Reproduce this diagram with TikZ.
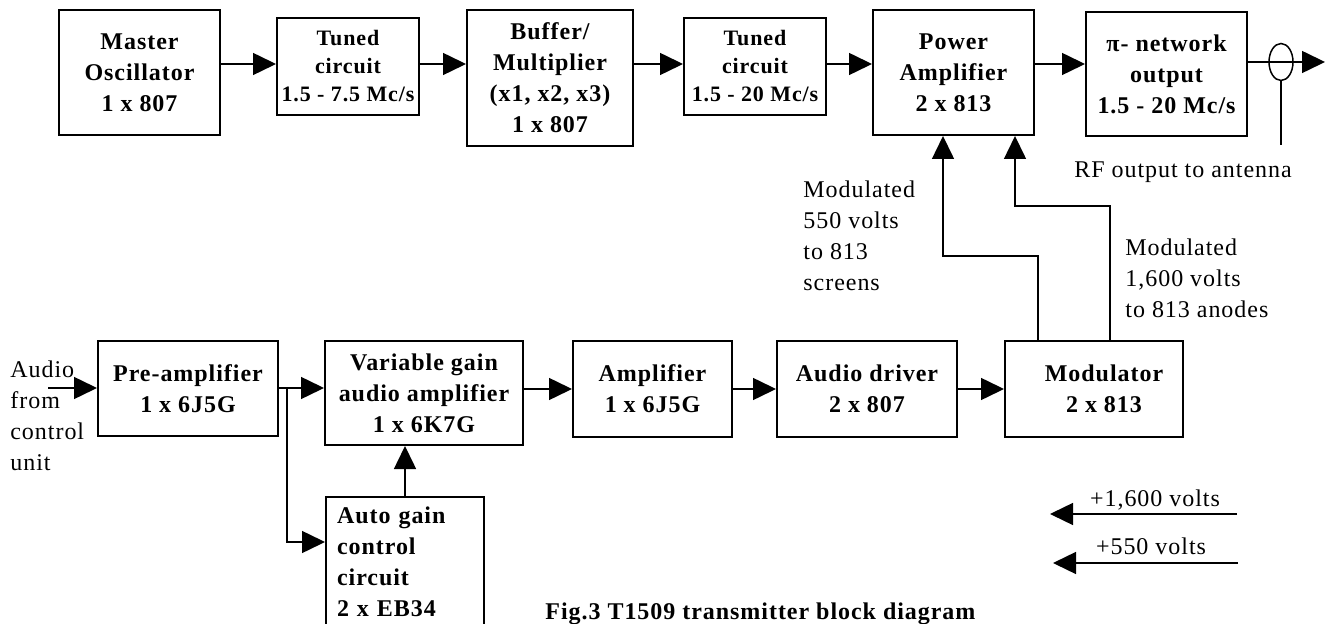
\documentclass[tikz,border=0pt]{standalone}
\usepackage{fontspec}
\setmainfont{Liberation Serif}[LetterSpace=4]
\usetikzlibrary{arrows.meta, positioning, calc, shapes.geometric}

\tikzset{
  blk/.style={draw, line width=1pt, align=center, inner sep=0pt,
    font=\bfseries\fontsize{12}{15.5}\selectfont},
  tblk/.style={blk, font=\bfseries\fontsize{11}{14}\selectfont},
  note/.style={align=left, inner sep=0pt, font=\fontsize{12}{15.5}\selectfont},
  arr/.style={line width=0.75pt, -{Triangle[length=11.5pt, width=11pt]}},
  wire/.style={line width=0.75pt}
}

\begin{document}
\begin{tikzpicture}[x=0.5pt, y=-0.5pt]
\clip (0,0) rectangle (1325,624);

% RF chain
\node[blk, minimum width=80.5pt, minimum height=62.5pt] (mo) at (139.5,72.5) {Master\\Oscillator\\1 x 807};
\node[tblk, minimum width=71pt, minimum height=48.5pt] (tc1) at (348,66.5) {Tuned\\circuit\\1.5 - 7.5 Mc/s};
\node[blk, minimum width=83pt, minimum height=68pt] (buf) at (550,78) {Buffer/\\Multiplier\\(x1, x2, x3)\\1 x 807};
\node[tblk, minimum width=71pt, minimum height=48.5pt] (tc2) at (755,66.5) {Tuned\\circuit\\1.5 - 20 Mc/s};
\node[blk, minimum width=80.5pt, minimum height=62.5pt] (pa) at (953.5,72.5) {Power\\Amplifier\\2 x 813};
\node[blk, minimum width=80.5pt, minimum height=62pt] (pin) at (1166.5,74) {π- network\\output\\1.5 - 20 Mc/s};

\coordinate (ra) at (0,64);
\draw[arr] (mo.east |- ra) -- (tc1.west |- ra);
\draw[arr] (tc1.east |- ra) -- (buf.west |- ra);
\draw[arr] (buf.east |- ra) -- (tc2.west |- ra);
\draw[arr] (tc2.east |- ra) -- (pa.west |- ra);
\draw[arr] (pa.east |- ra) -- (pin.west |- ra);

% antenna
\node[draw, ellipse, line width=0.75pt, inner sep=0pt, minimum width=12pt, minimum height=18.5pt] (ant) at (1281,62) {};
\coordinate (rf) at (1325,62);
\coordinate (antb) at (1281,145);
\draw[arr] (pin.east |- ant) -- (rf);
\draw[wire] (ant.south) -- (antb);
\node[note, anchor=base] (rftxt) at (1183,178) {RF output to antenna};

% audio chain
\node[blk, minimum width=90pt, minimum height=47.5pt] (pre) at (188,388.5) {Pre-amplifier\\1 x 6J5G};
\node[blk, minimum width=99pt, minimum height=52pt] (vga) at (424,393) {Variable gain\\audio amplifier\\1 x 6K7G};
\node[blk, anchor=north west, align=left, text width=68pt, inner xsep=5.5pt,
  minimum width=79pt, minimum height=65pt] (agc) at (325,496) {Auto gain\\control\\circuit\\2 x EB34};
\node[blk, minimum width=79.5pt, minimum height=48pt] (amp) at (652.5,389) {Amplifier\\1 x 6J5G};
\node[blk, minimum width=90pt, minimum height=48pt] (drv) at (867,389) {Audio driver\\2 x 807};
\node[blk, minimum width=89pt, minimum height=48pt] (modu) at (1094,389) {\hspace*{10pt}Modulator\\\hspace*{10pt}2 x 813};

\node[note, anchor=north west] (audtxt) at (10,360) {Audio\\from\\control\\unit};
\coordinate (ain) at (48,388);
\draw[arr] (ain) -- (pre.west |- ain);
\draw[arr] (pre.east |- ain) -- (vga.west |- ain);
\coordinate (br) at (287,388);
\coordinate (agcin) at (0,542);
\draw[arr] (br) |- (agc.west |- agcin);
\draw[arr] (agc.north) -- (agc.north |- vga.south);

\coordinate (rb) at (0,389);
\draw[arr] (vga.east |- rb) -- (amp.west |- rb);
\draw[arr] (amp.east |- rb) -- (drv.west |- rb);
\draw[arr] (drv.east |- rb) -- (modu.west |- rb);

% modulation feeds
\coordinate (scrx) at (1038,0);
\coordinate (anox) at (1110,0);
\coordinate (scr) at (943,256);
\coordinate (ano) at (1015,206);
\draw[arr] (modu.north -| scrx) |- (scr) -- (scr |- pa.south);
\draw[arr] (modu.north -| anox) |- (ano) -- (ano |- pa.south);
\node[note, anchor=north west] (scrtxt) at (803,180) {Modulated\\550 volts\\to 813\\screens};
\node[note, anchor=north west] (anotxt) at (1125,238) {Modulated\\1,600 volts\\to 813 anodes};

% supplies
\coordinate (hva) at (1237,514);
\coordinate (hvb) at (1050,514);
\coordinate (lva) at (1238,563);
\coordinate (lvb) at (1053,563);
\draw[arr] (hva) -- (hvb);
\draw[arr] (lva) -- (lvb);
\node[note, anchor=base] (hvtxt) at (1155,506) {+1,600 volts};
\node[note, anchor=base] (lvtxt) at (1151,554) {+550 volts};

\node[anchor=base west, inner sep=0pt, font=\bfseries\fontsize{12}{14}\selectfont] (cap) at (545,619) {Fig.3 T1509 transmitter block diagram};
\end{tikzpicture}
\end{document}
